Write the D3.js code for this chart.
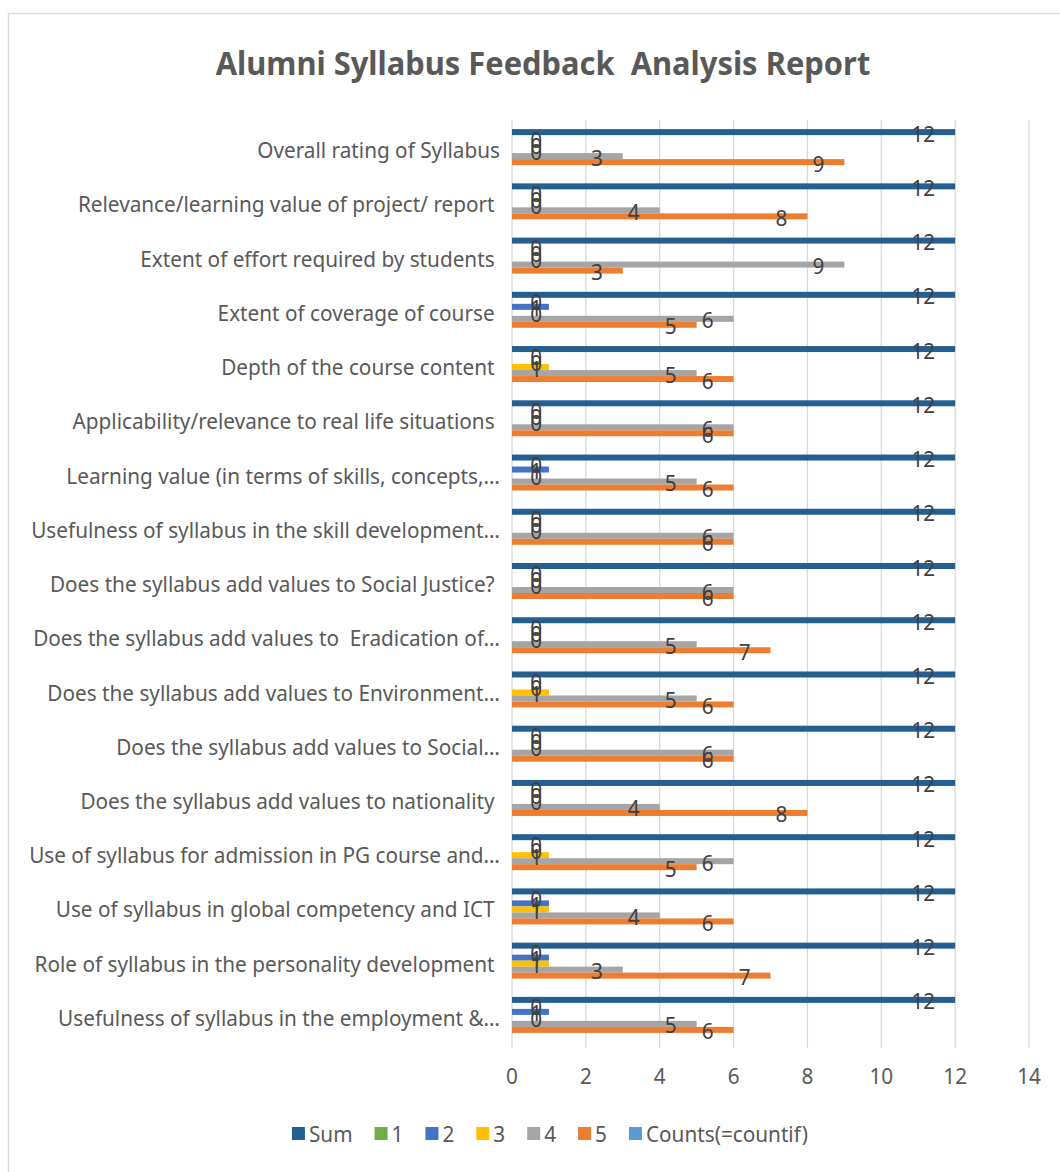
<html>
<head>
<script src="https://d3js.org/d3.v7.min.js"></script>
<style>
  body { margin: 0; background: #FFFFFF; font-family: "Noto Sans", "Open Sans", sans-serif; }
  svg { display: block; }
  .cat, .tick, .leg { fill: #595959; }
  .lbl { fill: #404040; }
</style>
</head>
<body>
<div id="chart"></div>
<script type="text/javascript">
    var categories = [
        "Overall rating of Syllabus",
        "Relevance/learning value of project/ report ",
        "Extent of effort required by students ",
        "Extent of coverage of course ",
        "Depth of the course content ",
        "Applicability/relevance to real life situations ",
        "Learning value (in terms of skills, concepts,…",
        "Usefulness of syllabus in the skill development…",
        "Does the syllabus add values to Social Justice? ",
        "Does the syllabus add values to  Eradication of…",
        "Does the syllabus add values to Environment…",
        "Does the syllabus add values to Social…",
        "Does the syllabus add values to nationality ",
        "Use of syllabus for admission in PG course and…",
        "Use of syllabus in global competency and ICT ",
        "Role of syllabus in the personality development ",
        "Usefulness of syllabus in the employment &…"
    ];
    var seriesNames = ["Sum", "1", "2", "3", "4", "5", "Counts(=countif)"];
    var seriesColors = ["#255E91", "#70AD47", "#4472C4", "#FFC000", "#A5A5A5", "#ED7D31", "#5B9BD5"];

    var sumVals = [12, 12, 12, 12, 12, 12, 12, 12, 12, 12, 12, 12, 12, 12, 12, 12, 12];
    var ones    = [0, 0, 0, 0, 0, 0, 0, 0, 0, 0, 0, 0, 0, 0, 0, 0, 0];
    var twos    = [0, 0, 0, 1, 0, 0, 1, 0, 0, 0, 0, 0, 0, 0, 1, 1, 1];
    var threes  = [0, 0, 0, 0, 1, 0, 0, 0, 0, 0, 1, 0, 0, 1, 1, 1, 0];
    var fours   = [3, 4, 9, 6, 5, 6, 5, 6, 6, 5, 5, 6, 4, 6, 4, 3, 5];
    var fives   = [9, 8, 3, 5, 6, 6, 6, 6, 6, 7, 6, 6, 8, 5, 6, 7, 6];
    var counts  = [null, null, null, null, null, null, null, null, null, null, null, null, null, null, null, null, null];
    var xTicks  = [0, 2, 4, 6, 8, 10, 12, 14];

    var allSeries = [sumVals, ones, twos, threes, fours, fives, counts];

    var width = 1060, height = 1172;
    var svg = d3.select("#chart").append("svg")
        .attr("width", width)
        .attr("height", height);

    // chart area frame
    svg.append("rect")
        .attr("x", 8.5).attr("y", 13.5)
        .attr("width", 1070).attr("height", 1180)
        .attr("fill", "#FFFFFF")
        .attr("stroke", "#D9D9D9")
        .attr("stroke-width", 1.5);

    var x = d3.scaleLinear().domain([0, 14]).range([512, 1029]);
    var y = d3.scaleBand().domain(categories).range([123, 1045]).padding(0);
    var y1 = d3.scaleBand().domain(seriesNames).range([0, y.bandwidth()])
        .paddingInner(0).paddingOuter(1.02);

    // horizontal squeeze so the text looks like the narrow original font
    var probe = svg.append("text").attr("font-size", 21).text("Overall rating of Syllabus");
    var sx = 243 / probe.node().getComputedTextLength();
    probe.remove();

    function addText(g, tx, ty, str, anchor, size, cls, scale) {
        return g.append("text")
            .attr("class", cls)
            .attr("transform", "translate(" + tx + "," + ty + ") scale(" + scale + ",1)")
            .attr("text-anchor", anchor)
            .attr("font-size", size)
            .attr("dominant-baseline", "central")
            .style("white-space", "pre")
            .text(str);
    }

    // title
    var title = svg.append("text")
        .attr("font-size", 33)
        .attr("font-weight", "bold")
        .style("white-space", "pre")
        .attr("fill", "#595959")
        .text("Alumni Syllabus Feedback  Analysis Report");
    var tsx = 655 / title.node().getComputedTextLength();
    title.attr("transform", "translate(543,75) scale(" + tsx + ",1)")
        .attr("text-anchor", "middle");

    // gridlines
    svg.append("g").selectAll("line")
        .data(xTicks)
        .enter().append("line")
        .attr("x1", function(d) { return x(d); })
        .attr("x2", function(d) { return x(d); })
        .attr("y1", 120).attr("y2", 1048)
        .attr("stroke", "#D9D9D9")
        .attr("stroke-width", 1.3);

    // x tick labels
    var tg = svg.append("g");
    xTicks.forEach(function(t) {
        addText(tg, x(t), 1076, String(t), "middle", 21, "tick", sx);
    });

    // category labels
    var cg = svg.append("g");
    categories.forEach(function(c) {
        addText(cg, 500, y(c) + y.bandwidth() / 2, c, "end", 21, "cat", sx);
    });

    // bars
    var bg = svg.append("g");
    allSeries.forEach(function(vals, s) {
        categories.forEach(function(c, i) {
            var v = vals[i];
            if (v === null || v === undefined) return;
            bg.append("rect")
                .attr("x", x(0))
                .attr("y", y(c) + y1(seriesNames[s]))
                .attr("width", x(v) - x(0))
                .attr("height", y1.bandwidth())
                .attr("fill", seriesColors[s]);
        });
    });

    // data labels
    var lg = svg.append("g");
    allSeries.forEach(function(vals, s) {
        categories.forEach(function(c, i) {
            var v = vals[i];
            if (v === null || v === undefined) return;
            var lx = Math.max(x(v) - 20, x(0) + 30);
            var ly = y(c) + y1(seriesNames[s]) + y1.bandwidth() / 2 + 1.5;
            addText(lg, lx, ly, String(v), "end", 21, "lbl", sx);
        });
    });

    // legend
    var leg = svg.append("g");
    var items = [];
    var total = 0;
    seriesNames.forEach(function(n, i) {
        var t = leg.append("text").attr("font-size", 21).text(n);
        var w = t.node().getComputedTextLength() * sx;
        t.remove();
        items.push(w);
        total += 17 + w + (i < seriesNames.length - 1 ? 22 : 0);
    });
    var lx = 550 - total / 2;
    seriesNames.forEach(function(n, i) {
        leg.append("rect")
            .attr("x", lx).attr("y", 1127)
            .attr("width", 13).attr("height", 13)
            .attr("fill", seriesColors[i]);
        addText(leg, lx + 17, 1134, n, "start", 21, "leg", sx);
        lx += 17 + items[i] + 22;
    });
</script>
</body>
</html>
